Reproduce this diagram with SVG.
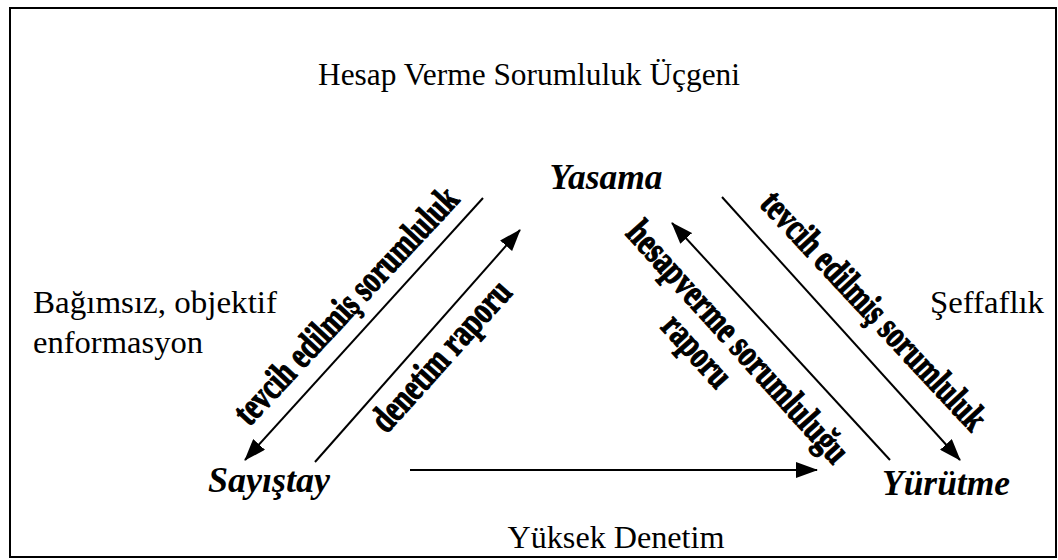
<svg xmlns="http://www.w3.org/2000/svg" width="1058" height="560" viewBox="0 0 1058 560">
<defs>
<style>
.reg{font-family:"Liberation Serif","Times New Roman","DejaVu Serif",serif;font-size:31px;fill:#000}
.node{font-family:"Liberation Serif","Times New Roman","DejaVu Serif",serif;font-size:36px;font-weight:bold;font-style:italic;fill:#000}
.lbl{font-family:"Liberation Serif","Times New Roman","DejaVu Serif",serif;font-size:38px;font-weight:bold;fill:#000;stroke:#000;stroke-width:1.2}
.conn{stroke:#000;stroke-width:2;fill:none}
</style>
<marker id="ah" markerWidth="22" markerHeight="16" refX="21" refY="8" orient="auto" markerUnits="userSpaceOnUse">
<path d="M0,0 L22,8 L0,16 z" fill="#000"/>
</marker>
</defs>
<rect x="0" y="0" width="1058" height="560" fill="#fff"/>
<rect x="10" y="8" width="1046" height="549" fill="none" stroke="#000" stroke-width="2"/>

<g id="title"><text class="reg" x="529" y="85" text-anchor="middle" textLength="422" lengthAdjust="spacingAndGlyphs">Hesap Verme Sorumluluk Üçgeni</text></g>

<g id="yasama"><text class="node" x="606" y="189" text-anchor="middle" textLength="113" lengthAdjust="spacingAndGlyphs">Yasama</text></g>
<g id="sayistay"><text class="node" x="269" y="492" text-anchor="middle" textLength="122" lengthAdjust="spacingAndGlyphs">Sayıştay</text></g>
<g id="yurutme"><text class="node" x="946" y="495" text-anchor="middle" textLength="128" lengthAdjust="spacingAndGlyphs">Yürütme</text></g>

<g id="bagimsiz"><text class="reg" x="33" y="313" textLength="244" lengthAdjust="spacingAndGlyphs">Bağımsız, objektif</text><text class="reg" x="33" y="353" textLength="170" lengthAdjust="spacingAndGlyphs">enformasyon</text></g>
<g id="seffaflik"><text class="reg" x="930" y="313" textLength="114" lengthAdjust="spacingAndGlyphs">Şeffaflık</text></g>
<g id="yuksek-denetim"><text class="reg" x="616" y="548" text-anchor="middle" textLength="217" lengthAdjust="spacingAndGlyphs">Yüksek Denetim</text></g>

<g id="connectors">
<line class="conn" x1="483" y1="198" x2="245" y2="460" marker-end="url(#ah)"/>
<line class="conn" x1="315" y1="462" x2="520" y2="230" marker-end="url(#ah)"/>
<line class="conn" x1="722" y1="197" x2="960" y2="460" marker-end="url(#ah)"/>
<line class="conn" x1="890" y1="460" x2="672" y2="223" marker-end="url(#ah)"/>
<line class="conn" x1="410" y1="470" x2="817" y2="470" marker-end="url(#ah)"/>
<text class="lbl" transform="translate(355,314) rotate(-47)" text-anchor="middle" textLength="310" lengthAdjust="spacingAndGlyphs">tevcih edilmiş sorumluluk</text>
<text class="lbl" transform="translate(450,364) rotate(-48)" text-anchor="middle" textLength="190" lengthAdjust="spacingAndGlyphs">denetim raporu</text>
<text class="lbl" transform="translate(865,319) rotate(47)" text-anchor="middle" textLength="312" lengthAdjust="spacingAndGlyphs">tevcih edilmiş sorumluluk</text>
<text class="lbl" transform="translate(729,350) rotate(48)" text-anchor="middle" textLength="312" lengthAdjust="spacingAndGlyphs">hesapverme sorumluluğu</text>
<text class="lbl" transform="translate(688,359) rotate(48)" text-anchor="middle" textLength="85" lengthAdjust="spacingAndGlyphs">raporu</text>
</g>
</svg>
